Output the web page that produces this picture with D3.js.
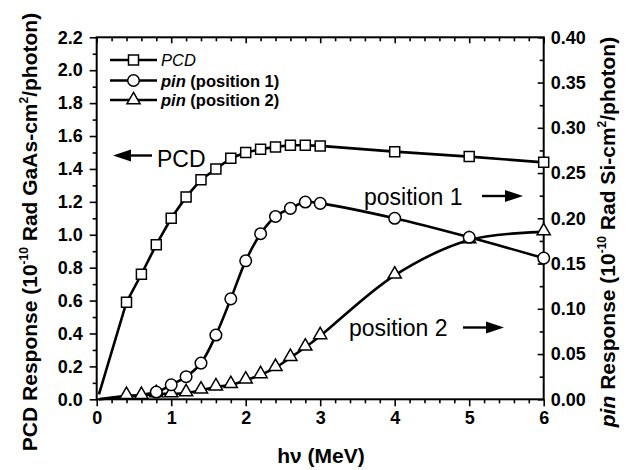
<!DOCTYPE html>
<html>
<head>
<meta charset="utf-8">
<script src="https://cdn.jsdelivr.net/npm/d3@7"></script>
<style>
  html, body { margin: 0; padding: 0; background: #fff; }
  svg { display: block; font-family: "Liberation Sans", Arial, sans-serif; }
</style>
</head>
<body>
<svg id="chart" width="629" height="470"></svg>
<script>
// ---- Data ----
const pcdEnergy = [0.03, 0.4, 0.6, 0.8, 1.0, 1.2, 1.4, 1.6, 1.8, 2.0, 2.2, 2.4, 2.6, 2.8, 3.0, 4.0, 5.0, 6.0];
const pcdResponse = [0.03, 0.59, 0.76, 0.94, 1.10, 1.23, 1.335, 1.40, 1.465, 1.50, 1.52, 1.534, 1.544, 1.544, 1.54, 1.505, 1.475, 1.44];

const pin1Energy = [0.03, 0.8, 1.0, 1.2, 1.4, 1.6, 1.8, 2.0, 2.2, 2.4, 2.6, 2.8, 3.0, 4.0, 5.0, 6.0];
const pin1Response = [0.0, 0.008, 0.016, 0.025, 0.040, 0.071, 0.111, 0.153, 0.183, 0.202, 0.211, 0.218, 0.2165, 0.200, 0.179, 0.156];

const pin2Energy = [0.03, 0.4, 0.6, 0.8, 1.0, 1.2, 1.4, 1.6, 1.8, 2.0, 2.2, 2.4, 2.6, 2.8, 3.0, 4.0, 5.0, 6.0];
const pin2Response = [0.0, 0.004, 0.004, 0.006, 0.006, 0.007, 0.010, 0.0135, 0.016, 0.021, 0.027, 0.035, 0.046, 0.0575, 0.070, 0.137, 0.176, 0.185];

const xTicks = [0, 1, 2, 3, 4, 5, 6];
const leftTicks = [0.0, 0.2, 0.4, 0.6, 0.8, 1.0, 1.2, 1.4, 1.6, 1.8, 2.0, 2.2];
const rightTicks = [0.00, 0.05, 0.10, 0.15, 0.20, 0.25, 0.30, 0.35, 0.40];

// ---- Layout ----
const svg = d3.select("#chart");
const X0 = 96.7, X1 = 543.7, Y0 = 399.3, Y1 = 37.3;

const x = d3.scaleLinear().domain([0, 6]).range([X0, X1]);
const yL = d3.scaleLinear().domain([0, 2.2]).range([Y0, Y1]);
const yR = d3.scaleLinear().domain([0, 0.4]).range([Y0, Y1]);

const tickFont = "bold 18px 'Liberation Sans', Arial, sans-serif";

// minor tick values
const xMinor = d3.range(0, 6.0001, 0.2).filter(v => Math.abs(v - Math.round(v)) > 1e-6);
const lMinor = d3.range(0.1, 2.2, 0.2);
const rMinor = d3.range(0.025, 0.4, 0.05);

function drawAxis(g, axis) {
  g.call(axis);
  g.select(".domain").remove();
  g.selectAll("line").attr("stroke", "#000").attr("stroke-width", 1.6);
  g.selectAll("text").style("font", tickFont).attr("fill", "#000");
}

// bottom axis (outward)
drawAxis(svg.append("g").attr("transform", `translate(0,${Y0})`),
  d3.axisBottom(x).tickValues(xTicks).tickFormat(d3.format("d")).tickSize(7).tickPadding(5));
drawAxis(svg.append("g").attr("transform", `translate(0,${Y0})`),
  d3.axisBottom(x).tickValues(xMinor).tickFormat("").tickSize(4));
// top axis (inward)
drawAxis(svg.append("g").attr("transform", `translate(0,${Y1})`),
  d3.axisBottom(x).tickValues(xTicks).tickFormat("").tickSize(6));
drawAxis(svg.append("g").attr("transform", `translate(0,${Y1})`),
  d3.axisBottom(x).tickValues(xMinor).tickFormat("").tickSize(4));
// left axis (outward)
drawAxis(svg.append("g").attr("transform", `translate(${X0},0)`),
  d3.axisLeft(yL).tickValues(leftTicks).tickFormat(d3.format(".1f")).tickSize(7).tickPadding(7));
drawAxis(svg.append("g").attr("transform", `translate(${X0},0)`),
  d3.axisLeft(yL).tickValues(lMinor).tickFormat("").tickSize(4));
// right axis (inward ticks, labels outside)
const rg = svg.append("g").attr("transform", `translate(${X1},0)`);
drawAxis(rg, d3.axisLeft(yR).tickValues(rightTicks).tickFormat("").tickSize(6));
drawAxis(svg.append("g").attr("transform", `translate(${X1},0)`),
  d3.axisLeft(yR).tickValues(rMinor).tickFormat("").tickSize(4));
drawAxis(svg.append("g").attr("transform", `translate(${X1},0)`),
  d3.axisRight(yR).tickValues(rightTicks).tickFormat(d3.format(".2f")).tickSize(0).tickPadding(7));

// frame
svg.append("rect").attr("x", X0).attr("y", Y1).attr("width", X1 - X0).attr("height", Y0 - Y1)
  .attr("fill", "none").attr("stroke", "#000").attr("stroke-width", 2);

// ---- Series ----
function series(xs, ys, yScale, curve) {
  return xs.map((e, i) => [x(e), yScale(ys[i])]);
}
const pcdPts = series(pcdEnergy, pcdResponse, yL);
const pin1Pts = series(pin1Energy, pin1Response, yR);
const pin2Pts = series(pin2Energy, pin2Response, yR);

const lineLin = d3.line();
const lineSmooth = d3.line().curve(d3.curveCatmullRom.alpha(0.5));

svg.append("path").attr("d", lineSmooth(pin2Pts)).attr("fill", "none").attr("stroke", "#000").attr("stroke-width", 2.6);
svg.append("path").attr("d", lineSmooth(pin1Pts)).attr("fill", "none").attr("stroke", "#000").attr("stroke-width", 2.6);
svg.append("path").attr("d", lineLin(pcdPts)).attr("fill", "none").attr("stroke", "#000").attr("stroke-width", 2.6);

const sq = d3.symbol().type(d3.symbolSquare).size(100);
const ci = d3.symbol().type(d3.symbolCircle).size(105);
const tri = d3.symbol().type(d3.symbolTriangle).size(75);

function markers(pts, sym, dy) {
  svg.append("g").selectAll("path").data(pts.slice(1)).join("path")
    .attr("d", sym)
    .attr("transform", d => `translate(${d[0]},${d[1] + (dy || 0)})`)
    .attr("fill", "#fff").attr("stroke", "#000").attr("stroke-width", 1.5);
}
markers(pin2Pts, tri, -1);
markers(pin1Pts, ci);
markers(pcdPts, sq);

// ---- Legend ----
const legend = [
  { sym: sq, y: 60, parts: [["PCD", "italic", "normal"]] },
  { sym: ci, y: 80.5, parts: [["pin", "italic", "bold"], [" (position 1)", "normal", "bold"]] },
  { sym: tri, y: 100, parts: [["pin", "italic", "bold"], [" (position 2)", "normal", "bold"]] }
];
legend.forEach(l => {
  svg.append("line").attr("x1", 110).attr("x2", 157).attr("y1", l.y).attr("y2", l.y)
    .attr("stroke", "#000").attr("stroke-width", 2.4);
  svg.append("path").attr("d", l.sym).attr("transform", `translate(133.5,${l.y})`)
    .attr("fill", "#fff").attr("stroke", "#000").attr("stroke-width", 1.5);
  const t = svg.append("text").attr("x", 161).attr("y", l.y + 6).style("font-size", "16.5px");
  l.parts.forEach(p => t.append("tspan").text(p[0]).style("font-style", p[1]).style("font-weight", p[2]));
});

// ---- Annotations ----
function arrow(xTail, xTip, y) {
  const dir = Math.sign(xTip - xTail);
  svg.append("line").attr("x1", xTail).attr("x2", xTip - dir * 10).attr("y1", y).attr("y2", y)
    .attr("stroke", "#000").attr("stroke-width", 2.4);
  svg.append("path")
    .attr("d", `M${xTip},${y} L${xTip - dir * 18},${y - 6} L${xTip - dir * 18},${y + 6} Z`)
    .attr("fill", "#000");
}
arrow(152, 113, 155.5);
svg.append("text").attr("x", 157).attr("y", 166.5).style("font-size", "23px").text("PCD");

svg.append("text").attr("x", 364).attr("y", 204.5).style("font-size", "23px").text("position 1");
arrow(482, 523, 196);
svg.append("text").attr("x", 349).attr("y", 336).style("font-size", "23px").text("position 2");
arrow(463, 504, 327.5);

// ---- Axis titles ----
svg.append("text").attr("x", 321).attr("y", 463).attr("text-anchor", "middle")
  .style("font-size", "21px").style("font-weight", "bold").text("hν (MeV)");

const lt = svg.append("text").attr("transform", "translate(37,232) rotate(-90)")
  .attr("text-anchor", "middle").style("font-size", "21px").style("font-weight", "bold");
lt.append("tspan").text("PCD Response (10");
lt.append("tspan").text("-10").style("font-size", "12px").attr("dy", -9);
lt.append("tspan").text(" Rad GaAs-cm").attr("dy", 9);
lt.append("tspan").text("2").style("font-size", "12px").attr("dy", -9);
lt.append("tspan").text("/photon)").attr("dy", 9);

const rt = svg.append("text").attr("transform", "translate(615,232) rotate(-90)")
  .attr("text-anchor", "middle").style("font-size", "21px").style("font-weight", "bold");
rt.append("tspan").text("pin").style("font-style", "italic");
rt.append("tspan").text(" Response (10");
rt.append("tspan").text("-10").style("font-size", "12px").attr("dy", -9);
rt.append("tspan").text(" Rad Si-cm").attr("dy", 9);
rt.append("tspan").text("2").style("font-size", "12px").attr("dy", -9);
rt.append("tspan").text("/photon)").attr("dy", 9);
</script>
</body>
</html>
